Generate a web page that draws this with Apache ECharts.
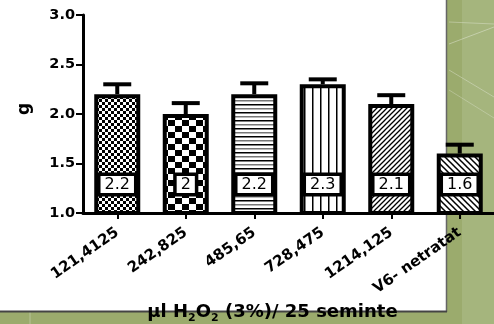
<!DOCTYPE html>
<html>
<head>
<meta charset="utf-8">
<script src="https://cdn.jsdelivr.net/npm/echarts@6/dist/echarts.min.js"></script>
<style>
  html, body { margin: 0; padding: 0; background: #fff; }
  #chart { width: 494px; height: 324px; }
</style>
</head>
<body>
<div id="chart"></div>
<script>
// Seed weight (g) per H2O2 dose group
var categories = ['121,4125', '242,825', '485,65', '728,475', '1214,125', 'V6- netratat'];
var means = [2.2, 2.0, 2.2, 2.3, 2.1, 1.6];
var errors = [0.10, 0.11, 0.11, 0.05, 0.09, 0.09];
var yTicks = [1.0, 1.5, 2.0, 2.5, 3.0];

var FONT = 'DejaVu Sans';

// Build a repeating canvas fill for the bar hatchings
function makePattern(w, h, draw) {
  var c = document.createElement('canvas');
  c.width = w; c.height = h;
  var ctx = c.getContext('2d');
  ctx.fillStyle = '#fff';
  ctx.fillRect(0, 0, w, h);
  ctx.fillStyle = '#000';
  ctx.strokeStyle = '#000';
  draw(ctx, w, h);
  return { image: c, repeat: 'repeat' };
}

var patterns = [
  // fine checkerboard
  makePattern(6, 6, function (ctx) {
    ctx.fillRect(0, 0, 3, 3); ctx.fillRect(3, 3, 3, 3);
  }),
  // coarse checkerboard
  makePattern(14, 12, function (ctx) {
    ctx.fillRect(0, 0, 7, 6); ctx.fillRect(7, 6, 7, 6);
  }),
  // horizontal lines
  makePattern(4, 8, function (ctx) {
    ctx.fillRect(0, 0, 4, 1.5);
    ctx.fillStyle = '#777';
    ctx.fillRect(0, 4, 4, 1.5);
  }),
  // vertical lines
  makePattern(8, 4, function (ctx) {
    ctx.fillRect(0, 0, 1.5, 4);
  }),
  // fine diagonal "/"
  makePattern(5, 5, function (ctx) {
    ctx.lineWidth = 1.3;
    ctx.beginPath();
    ctx.moveTo(-1, 6); ctx.lineTo(6, -1);
    ctx.moveTo(-1, 1); ctx.lineTo(1, -1);
    ctx.moveTo(4, 6); ctx.lineTo(6, 4);
    ctx.stroke();
  }),
  // diagonal "\"
  makePattern(6, 6, function (ctx) {
    ctx.lineWidth = 1.5;
    ctx.beginPath();
    ctx.moveTo(-1, -1); ctx.lineTo(7, 7);
    ctx.moveTo(5, -1); ctx.lineTo(7, 1);
    ctx.moveTo(-1, 5); ctx.lineTo(1, 7);
    ctx.stroke();
  })
];

var barData = means.map(function (v, i) {
  return { value: v, itemStyle: { color: patterns[i] } };
});

var errData = means.map(function (v, i) {
  return [i, v, +(v + errors[i]).toFixed(3)];
});

var chart = echarts.init(document.getElementById('chart'), null, { renderer: 'canvas' });

chart.setOption({
  animation: false,
  backgroundColor: '#fff',
  graphic: [
    { type: 'rect', z: -100, silent: true, shape: { x: 0, y: 0, width: 494, height: 324 }, style: { fill: '#9bab6d' } },
    { type: 'rect', z: -99, silent: true, shape: { x: 462, y: 0, width: 32, height: 324 }, style: { fill: '#a5b57d' } },
    { type: 'line', z: -98, silent: true, shape: { x1: 449, y1: 44, x2: 494, y2: 27 }, style: { stroke: 'rgba(255,255,255,0.35)', lineWidth: 1 } },
    { type: 'line', z: -98, silent: true, shape: { x1: 449, y1: 22, x2: 494, y2: 24 }, style: { stroke: 'rgba(255,255,255,0.3)', lineWidth: 1 } },
    { type: 'line', z: -98, silent: true, shape: { x1: 449, y1: 70, x2: 494, y2: 97 }, style: { stroke: 'rgba(255,255,255,0.3)', lineWidth: 1 } },
    { type: 'line', z: -98, silent: true, shape: { x1: 449, y1: 90, x2: 494, y2: 118 }, style: { stroke: 'rgba(255,255,255,0.25)', lineWidth: 1 } },
    { type: 'line', z: -98, silent: true, shape: { x1: 30, y1: 312, x2: 30, y2: 324 }, style: { stroke: 'rgba(255,255,255,0.3)', lineWidth: 1 } },
    { type: 'rect', z: -97, silent: true, shape: { x: 0, y: 0, width: 446, height: 311 }, style: { fill: '#fff' } },
    { type: 'line', z: -96, silent: true, shape: { x1: 446.5, y1: 0, x2: 446.5, y2: 312 }, style: { stroke: '#666', lineWidth: 1.5 } },
    { type: 'line', z: -96, silent: true, shape: { x1: 0, y1: 311.5, x2: 447, y2: 311.5 }, style: { stroke: '#444', lineWidth: 2 } }
  ],
  grid: { left: 83, right: 0, top: 15, bottom: 111, containLabel: false, outerBoundsMode: 'none' },
  xAxis: {
    type: 'category',
    data: categories,
    name: 'µl H{sub|2}O{sub|2} (3%)/ 25 seminte',
    nameLocation: 'middle',
    nameGap: 74,
    nameTextStyle: {
      fontFamily: FONT, fontWeight: 'bold', fontSize: 18, color: '#000',
      padding: [0, 32, 0, 0],
      rich: {
        sub: { fontFamily: FONT, fontWeight: 'bold', fontSize: 11, color: '#000', verticalAlign: 'bottom', lineHeight: 23 }
      }
    },
    axisLine: { show: true, lineStyle: { color: '#000', width: 3 } },
    axisTick: { show: true, alignWithLabel: true, length: 6, lineStyle: { color: '#000', width: 2 } },
    axisLabel: {
      interval: 0, rotate: 35, margin: 18,
      fontFamily: FONT, fontWeight: 'bold', fontSize: 15, color: '#000'
    },
    splitLine: { show: false }
  },
  yAxis: {
    type: 'value',
    min: yTicks[0],
    max: yTicks[yTicks.length - 1],
    interval: 0.5,
    name: 'g',
    nameLocation: 'middle',
    nameGap: 50,
    nameRotate: 90,
    nameTextStyle: { fontFamily: FONT, fontWeight: 'bold', fontSize: 17, color: '#000', padding: [0, 0, 0, 10] },
    axisLine: { show: true, lineStyle: { color: '#000', width: 3 } },
    axisTick: { show: true, length: 7, lineStyle: { color: '#000', width: 2 } },
    axisLabel: {
      margin: 8, fontFamily: FONT, fontWeight: 'bold', fontSize: 14.5, color: '#000',
      formatter: function (v) { return v.toFixed(1); }
    },
    splitLine: { show: false }
  },
  series: [
    {
      type: 'custom',
      z: 1,
      data: errData,
      renderItem: function (params, api) {
        var base = api.coord([api.value(0), api.value(1)]);
        var top = api.coord([api.value(0), api.value(2)]);
        var half = 14;
        return {
          type: 'group',
          children: [
            { type: 'line', shape: { x1: base[0], y1: base[1], x2: base[0], y2: top[1] }, style: { stroke: '#000', lineWidth: 4 } },
            { type: 'line', shape: { x1: base[0] - half, y1: top[1], x2: base[0] + half, y2: top[1] }, style: { stroke: '#000', lineWidth: 4 } }
          ]
        };
      }
    },
    {
      type: 'bar',
      z: 3,
      barWidth: 46,
      data: barData,
      itemStyle: { borderColor: '#000', borderWidth: 4 },
      label: {
        show: true,
        position: 'insideBottom',
        distance: 22,
        fontFamily: FONT,
        fontSize: 16,
        color: '#000',
        backgroundColor: '#fff',
        borderColor: '#000',
        borderWidth: 3.5,
        padding: [1, 4, 0, 4],
        formatter: function (p) { return String(p.value); }
      }
    }
  ]
});
</script>
</body>
</html>
